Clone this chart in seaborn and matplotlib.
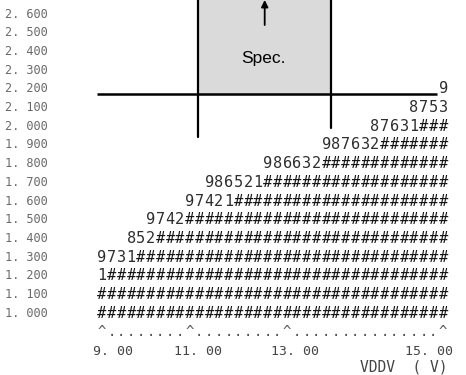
import numpy as np
import pandas as pd
import matplotlib
matplotlib.use("Agg")
import matplotlib.pyplot as plt
import seaborn as sns
from matplotlib.colors import ListedColormap
from matplotlib.patches import Rectangle

sns.set_style("white")
plt.rcParams["font.family"] = ["DejaVu Sans Mono", "DejaVu Sans"]
plt.rcParams["hatch.color"] = "#8c8c8c"
plt.rcParams["hatch.linewidth"] = 0.6

# Shmoo plot: tested parameter (rows) against supply voltage VDDV (columns).
# '#' = pass, digits = partial-pass count, blank = fail.
y_labels = ["2. 600", "2. 500", "2. 400", "2. 300", "2. 200", "2. 100",
            "2. 000", "1. 900", "1. 800", "1. 700", "1. 600", "1. 500",
            "1. 400", "1. 300", "1. 200", "1. 100", "1. 000"]
y_values = [2.6, 2.5, 2.4, 2.3, 2.2, 2.1, 2.0, 1.9, 1.8, 1.7, 1.6, 1.5,
            1.4, 1.3, 1.2, 1.1, 1.0]
shmoo_rows = [
    "",
    "",
    "",
    "",
    "9",
    "8753",
    "87631###",
    "987632#######",
    "986632#############",
    "986521###################",
    "97421######################",
    "9742###########################",
    "852##############################",
    "9731################################",
    "1###################################",
    "####################################",
    "####################################",
]
x_tick_labels = ["9. 00", "11. 00", "13. 00", "15. 00"]
x_label = "VDDV  ( V)"
n_cols = 36

# printed axis line: caret columns, and where each voltage label sits
x_tick_cols = [0, 9, 19, 35]
x_label_cols = [1.6, 10.4, 20.3, 34.1]

# spec window (grid units) and its lower limit on the parameter axis
spec_cols = (10.36, 24.0)
spec_limit = 2.17

axis_row = "".join("^" if c in x_tick_cols else "." for c in range(n_cols))
grid = [r.rjust(n_cols) for r in shmoo_rows] + [axis_row]

def code(ch):
    if ch == "#":
        return 10.0
    if ch.isdigit():
        return float(ch)
    if ch in "^.":
        return -1.0
    return np.nan

codes = pd.DataFrame([[code(ch) for ch in row] for row in grid],
                     index=y_labels + [""])
chars = np.array([[ch for ch in row] for row in grid])

fig = plt.figure(figsize=(4.66, 3.75), dpi=100)
W, H = 466, 375
top_px, row_px = 14.0, 18.7
bottom_px = top_px + 17.5 * row_px
ax = fig.add_axes([97 / W, 1 - bottom_px / H, 351 / W, bottom_px / H])

sns.heatmap(codes, annot=chars, fmt="", cmap=ListedColormap(["white"]),
            cbar=False, xticklabels=False, yticklabels=True, ax=ax,
            annot_kws=dict(fontfamily="DejaVu Sans Mono", fontsize=11))

for t in ax.texts:
    s = t.get_text()
    if s == "#":
        t.set_color("#151515")
    elif s.isdigit():
        t.set_color("#2e2e2e")
    else:
        t.set_color("#555555")
        t.set_fontsize(10)

top_row = -(top_px / row_px - 0.5)
ax.set_ylim(len(grid), top_row)
ax.set_xlim(0, n_cols)

# y tick labels
ax.set_yticks(np.arange(len(y_labels)) + 0.5)
ax.set_yticklabels(y_labels, rotation=0, fontsize=8.6, color="#6a6a6a",
                   ha="left")
ax.tick_params(axis="y", length=0, pad=92 * 72 / 100)

# x tick labels
ax.set_xticks(x_label_cols)
ax.set_xticklabels(x_tick_labels, rotation=0, fontsize=9.5, color="#444444")
ax.tick_params(axis="x", length=0, pad=3)
ax.set_xlabel(x_label, fontsize=10.5, color="#444444", ha="right", va="top")
ax.xaxis.set_label_coords(1.0, -(359 - bottom_px) / bottom_px)

for sp in ax.spines.values():
    sp.set_visible(False)

def row_of(v):
    return (y_values[0] - v) / 0.1 + 0.5

line_row = row_of(spec_limit)
ax.add_patch(Rectangle((spec_cols[0], top_row), spec_cols[1] - spec_cols[0],
                       line_row - top_row, facecolor="#dadada",
                       edgecolor="none", hatch="......", zorder=0.5))
ax.plot([0, 34.9], [line_row, line_row], color="black", lw=1.8,
        solid_capstyle="butt")
ax.plot([spec_cols[0]] * 2, [top_row, 7.08], color="black", lw=1.6)
ax.plot([spec_cols[1]] * 2, [top_row, 6.6], color="black", lw=1.6)
ax.annotate("", xy=(17.2, top_row), xytext=(17.2, 1.09),
            arrowprops=dict(arrowstyle="-|>", color="black", lw=1.3,
                            mutation_scale=10, shrinkA=0, shrinkB=0))
ax.text(17.1, 2.9, "Spec.", ha="center", va="center",
        fontfamily="Liberation Sans", fontsize=12.5, color="black")

fig.savefig("out.png", dpi=100, facecolor="white")
